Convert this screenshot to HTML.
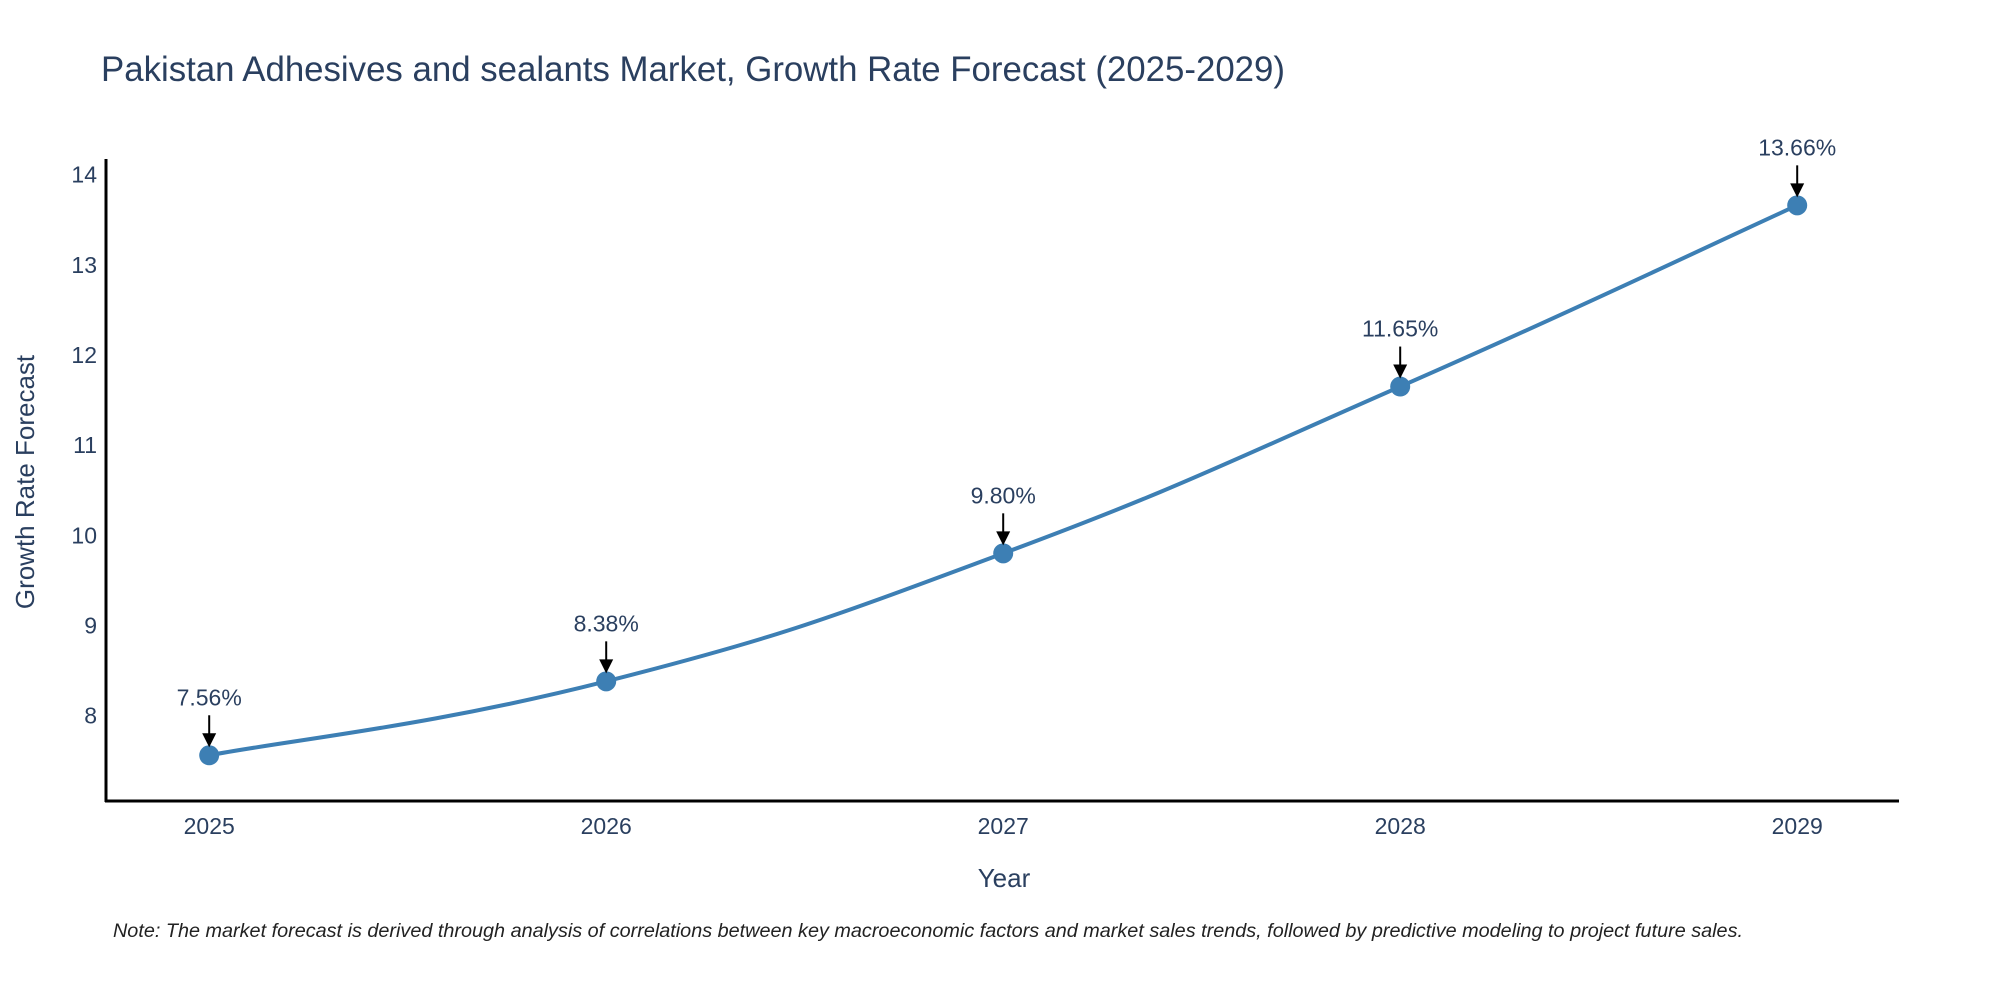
<!DOCTYPE html>
<html><head><meta charset="utf-8"><style>
body{margin:0;background:#fff;}
svg{display:block;font-family:"Liberation Sans",sans-serif;}
</style></head><body>
<svg width="2000" height="1000" id="c">
<text x="101" y="81" font-size="35" fill="#2a3f5f" textLength="1184" lengthAdjust="spacingAndGlyphs">Pakistan Adhesives and sealants Market, Growth Rate Forecast (2025-2029)</text>
<line x1="106" y1="159" x2="106" y2="802" stroke="#000" stroke-width="3"/>
<line x1="105" y1="801" x2="1899" y2="801" stroke="#000" stroke-width="3"/>
<text transform="translate(34,482) rotate(-90)" text-anchor="middle" font-size="26" fill="#2a3f5f">Growth Rate Forecast</text>
<text x="1004" y="887" text-anchor="middle" font-size="26" fill="#2a3f5f">Year</text>
<text x="113" y="937" font-size="19" font-style="italic" fill="#222" textLength="1630" lengthAdjust="spacingAndGlyphs">Note: The market forecast is derived through analysis of correlations between key macroeconomic factors and market sales trends, followed by predictive modeling to project future sales.</text>
<g id="ticks"></g><g id="plot"></g>
</svg>
<script>
const years=[2025,2026,2027,2028,2029];
const values=[7.56,8.38,9.80,11.65,13.66];
const labels=["7.56%","8.38%","9.80%","11.65%","13.66%"];
const yTicks=[8,9,10,11,12,13,14];
const NS="http://www.w3.org/2000/svg";
const xs=y=>209.2+(y-2025)*(1797.2-209.2)/4;
const ys=v=>715.6-(v-8)*(715.6-174.7)/6;
function mk(t,a,p){const e=document.createElementNS(NS,t);for(const k in a)e.setAttribute(k,a[k]);p.appendChild(e);return e;}
const T=document.getElementById('ticks'),P=document.getElementById('plot');
yTicks.forEach(v=>{const t=mk('text',{x:97,y:ys(v)+8,'text-anchor':'end','font-size':23,fill:'#2a3f5f'},T);


t.textContent=v;});
years.forEach(y=>{const t=mk('text',{x:xs(y),y:834,'text-anchor':'middle','font-size':23,fill:'#2a3f5f'},T);


t.textContent=y;});
const pts=years.map((y,i)=>[xs(y),ys(values[i])]);
let d=`M${pts[0][0]},${pts[0][1]}`;
for(let i=0;i<pts.length-1;i++){const p0=pts[Math.max(0,i-1)],p1=pts[i],p2=pts[i+1],p3=pts[Math.min(pts.length-1,i+2)];const s=4.5;
d+=` C${p1[0]+(p2[0]-p0[0])/s},${p1[1]+(p2[1]-p0[1])/s} ${p2[0]-(p3[0]-p1[0])/s},${p2[1]-(p3[1]-p1[1])/s} ${p2[0]},${p2[1]}`;}
const ln=mk('path',{d:d,fill:'none',stroke:'#3d7fb4','stroke-width':4},P);


pts.forEach((p,i)=>{const c=mk('circle',{cx:p[0],cy:p[1],r:10,fill:'#3d7fb4'},P);


const a=mk('line',{x1:p[0],y1:p[1]-40,x2:p[0],y2:p[1]-20,stroke:'#000','stroke-width':2},P);


const h=mk('polygon',{points:`${p[0]-7},${p[1]-22} ${p[0]+7},${p[1]-22} ${p[0]},${p[1]-8}`,fill:'#000'},P);


const t=mk('text',{x:p[0],y:p[1]-50,'text-anchor':'middle','font-size':23,fill:'#2a3f5f'},P);


t.textContent=labels[i];});
</script>
</body></html>
